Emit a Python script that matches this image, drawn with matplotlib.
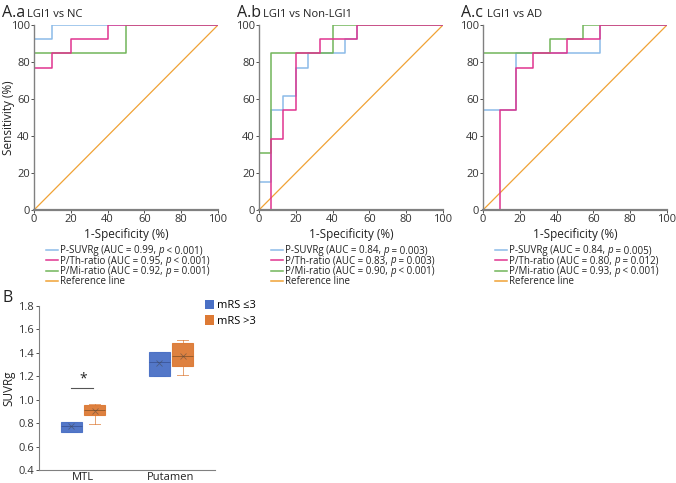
import numpy as np
import matplotlib
matplotlib.use("Agg")
import matplotlib.pyplot as plt
from matplotlib.patches import Patch
from matplotlib.lines import Line2D

plt.rcParams["font.family"] = ["Open Sans", "DejaVu Sans"]

# ROC step curves (1-specificity %, sensitivity %)
aa_suvr_x = [0, 0, 10, 10, 100]
aa_suvr_y = [0, 92.3, 92.3, 100, 100]
aa_th_x = [0, 0, 10, 10, 20, 20, 40, 40, 100]
aa_th_y = [0, 76.9, 76.9, 84.6, 84.6, 92.3, 92.3, 100, 100]
aa_mi_x = [0, 0, 50, 50, 100]
aa_mi_y = [0, 84.6, 84.6, 100, 100]

ab_suvr_x = [0, 0, 6.67, 6.67, 13.3, 13.3, 20, 20, 26.7, 26.7, 46.7, 46.7, 53.3, 53.3, 100]
ab_suvr_y = [0, 15.4, 15.4, 53.8, 53.8, 61.5, 61.5, 76.9, 76.9, 84.6, 84.6, 92.3, 92.3, 100, 100]
ab_th_x = [0, 6.67, 6.67, 13.3, 13.3, 20, 20, 33.3, 33.3, 53.3, 53.3, 100]
ab_th_y = [0, 0, 38.5, 38.5, 53.8, 53.8, 84.6, 84.6, 92.3, 92.3, 100, 100]
ab_mi_x = [0, 0, 6.67, 6.67, 40, 40, 100]
ab_mi_y = [0, 30.8, 30.8, 84.6, 84.6, 100, 100]

ac_suvr_x = [0, 0, 18.2, 18.2, 63.6, 63.6, 100]
ac_suvr_y = [0, 53.8, 53.8, 84.6, 84.6, 100, 100]
ac_th_x = [0, 9.09, 9.09, 18.2, 18.2, 27.3, 27.3, 45.5, 45.5, 63.6, 63.6, 100]
ac_th_y = [0, 0, 53.8, 53.8, 76.9, 76.9, 84.6, 84.6, 92.3, 92.3, 100, 100]
ac_mi_x = [0, 0, 36.4, 36.4, 54.5, 54.5, 100]
ac_mi_y = [0, 84.6, 84.6, 92.3, 92.3, 100, 100]

panel_tags = ["A.a", "A.b", "A.c"]
panel_titles = ["LGI1 vs NC", "LGI1 vs Non-LGI1", "LGI1 vs AD"]
suvr_auc = ["0.99", "0.84", "0.84"]
suvr_p = ["< 0.001", "= 0.003", "= 0.005"]
th_auc = ["0.95", "0.83", "0.80"]
th_p = ["< 0.001", "= 0.003", "= 0.012"]
mi_auc = ["0.92", "0.90", "0.93"]
mi_p = ["= 0.001", "< 0.001", "< 0.001"]

# Panel B box stats (SUVRg)
regions = ["MTL", "Putamen"]
groups = ["mRS \u22643", "mRS >3"]
low_q1 = [0.724, 1.20]
low_med = [0.775, 1.324]
low_q3 = [0.809, 1.41]
low_whislo = [0.724, 1.20]
low_whishi = [0.809, 1.41]
low_mean = [0.775, 1.312]
high_q1 = [0.873, 1.29]
high_med = [0.91, 1.376]
high_q3 = [0.955, 1.48]
high_whislo = [0.792, 1.21]
high_whishi = [0.963, 1.51]
high_mean = [0.907, 1.37]

C_BLUE = "#8bbbe8"
C_PINK = "#e0348f"
C_GREEN = "#72b55a"
C_ORANGE = "#f0a235"
C_SPINE = "#808080"
C_TEXT = "#222222"

W, H = 676, 483
fig = plt.figure(figsize=(W / 100, H / 100), dpi=100)
renderer = fig.canvas.get_renderer()


def px_rect(x0, y0, x1, y1):
    return [x0 / W, 1 - y1 / H, (x1 - x0) / W, (y1 - y0) / H]


def rich_row(x, y, parts, size):
    # parts: list of (text, style); pieces placed one after another on a baseline
    for txt, style in parts:
        t = fig.text(x / W, 1 - y / H, txt, fontsize=size, color=C_TEXT,
                     style=style, va="baseline")
        x = t.get_window_extent(renderer).x1


curves = [
    (aa_suvr_x, aa_suvr_y, aa_th_x, aa_th_y, aa_mi_x, aa_mi_y),
    (ab_suvr_x, ab_suvr_y, ab_th_x, ab_th_y, ab_mi_x, ab_mi_y),
    (ac_suvr_x, ac_suvr_y, ac_th_x, ac_th_y, ac_mi_x, ac_mi_y),
]
ax_left = [34, 259, 483]
tag_x = [2, 237, 461]
title_x = [27, 263, 487]
row_y = [250, 260.3, 270.6, 281]

for i, (sx, sy, tx, ty, mx, my) in enumerate(curves):
    ax = fig.add_axes(px_rect(ax_left[i], 25, ax_left[i] + 184, 210))
    ax.plot([0, 100], [0, 100], color=C_ORANGE, lw=0.9)
    ax.plot(sx, sy, color=C_BLUE, lw=1.1)
    ax.plot(mx, my, color=C_GREEN, lw=1.1)
    ax.plot(tx, ty, color=C_PINK, lw=1.1)
    ax.set_xlim(0, 100)
    ax.set_ylim(0, 100)
    ax.set_xticks(range(0, 101, 20))
    ax.set_yticks(range(0, 101, 20))
    for s in ["top", "right"]:
        ax.spines[s].set_visible(False)
    ax.spines["left"].set_color(C_SPINE)
    ax.spines["bottom"].set_color(C_SPINE)
    ax.spines["bottom"].set_linewidth(1.6)
    ax.spines["left"].set_linewidth(1.0)
    ax.tick_params(labelsize=8, colors="#333333", length=2, width=0.6, pad=1)
    ax.set_xlabel("1-Specificity (%)", fontsize=8.5, color=C_TEXT, labelpad=2)
    if i == 0:
        ax.set_ylabel("Sensitivity (%)", fontsize=8.5, color=C_TEXT)
        ax.yaxis.set_label_coords((15 - ax_left[i]) / 184, 0.5)
    fig.text(tag_x[i] / W, 1 - 17 / H, panel_tags[i], fontsize=11.5, color=C_TEXT)
    fig.text(title_x[i] / W, 1 - 17 / H, panel_titles[i], fontsize=8, color=C_TEXT)

    # legend rows drawn below each ROC panel
    rows = [
        [(f"P-SUVRg (AUC = {suvr_auc[i]}, ", "normal"), ("p", "italic"),
         (f" {suvr_p[i]})", "normal")],
        [(f"P/Th-ratio (AUC = {th_auc[i]}, ", "normal"), ("p", "italic"),
         (f" {th_p[i]})", "normal")],
        [(f"P/Mi-ratio (AUC = {mi_auc[i]}, ", "normal"), ("p", "italic"),
         (f" {mi_p[i]})", "normal")],
        [("Reference line", "normal")],
    ]
    x0 = ax_left[i] + 12
    for parts, col, yy in zip(rows, (C_BLUE, C_PINK, C_GREEN, C_ORANGE), row_y):
        fig.add_artist(Line2D([x0 / W, (x0 + 12) / W], [1 - yy / H, 1 - yy / H],
                              color=col, lw=1.1))
        rich_row(x0 + 14, yy + 3.2, parts, 7.0)

# Panel B
axb = fig.add_axes(px_rect(39, 306, 215, 470))
off = 0.132
bw = 0.245
xpos = np.arange(len(regions))
for stats_src, color, sign in [
    ((low_q1, low_med, low_q3, low_whislo, low_whishi, low_mean), "#4a70c5", -1),
    ((high_q1, high_med, high_q3, high_whislo, high_whishi, high_mean), "#dd7a35", 1),
]:
    q1, med, q3, wlo, whi, mn = stats_src
    stats = [dict(q1=q1[k], med=med[k], q3=q3[k], whislo=wlo[k], whishi=whi[k],
                  mean=mn[k], fliers=[]) for k in range(len(regions))]
    axb.bxp(stats, positions=xpos + sign * off, widths=bw, patch_artist=True,
            showmeans=True, showcaps=True,
            boxprops=dict(facecolor=color, edgecolor=color, lw=0.8, alpha=0.95),
            medianprops=dict(color="#5a3a1a" if sign > 0 else "#2b3f7a", lw=0.6, alpha=0.6),
            whiskerprops=dict(color=color, lw=0.7, alpha=0.7),
            capprops=dict(color=color, lw=0.7, alpha=0.7),
            meanprops=dict(marker="x", markeredgecolor="#444444", markersize=5,
                           markeredgewidth=0.6, alpha=0.5))

axb.plot([0 - off, 0 + off * 0.9], [1.10, 1.10], color="#555555", lw=0.8)
axb.text(0, 1.115, "*", ha="center", va="bottom", fontsize=10, color=C_TEXT)
axb.set_xlim(-0.5, 1.5)
axb.set_ylim(0.4, 1.8)
yt = np.arange(0.4, 1.81, 0.2)
axb.set_yticks(yt)
axb.set_yticklabels([f"{v:.1f}" for v in yt])
axb.set_xticks(xpos)
axb.set_xticklabels(regions)
for s in ["top", "right"]:
    axb.spines[s].set_visible(False)
axb.spines["left"].set_color(C_SPINE)
axb.spines["bottom"].set_color(C_SPINE)
axb.tick_params(axis="y", labelsize=8, colors="#333333", length=2.5, width=0.6, pad=1)
axb.tick_params(axis="x", labelsize=8, colors=C_TEXT, length=0, pad=1.5)
axb.set_ylabel("SUVRg", fontsize=8.5, color=C_TEXT)
axb.yaxis.set_label_coords((15 - 39) / 176, 0.5)
fig.text(2 / W, 1 - 302 / H, "B", fontsize=11.5, color=C_TEXT)

fig.legend([Patch(facecolor="#4a70c5"), Patch(facecolor="#dd7a35")], groups,
           loc="upper left", bbox_to_anchor=(205 / W, 1 - 300 / H), frameon=False,
           fontsize=8, handlelength=0.8, handleheight=0.9, handletextpad=0.3,
           labelspacing=0.35, borderpad=0, borderaxespad=0)

fig.savefig("out.png", dpi=100)
